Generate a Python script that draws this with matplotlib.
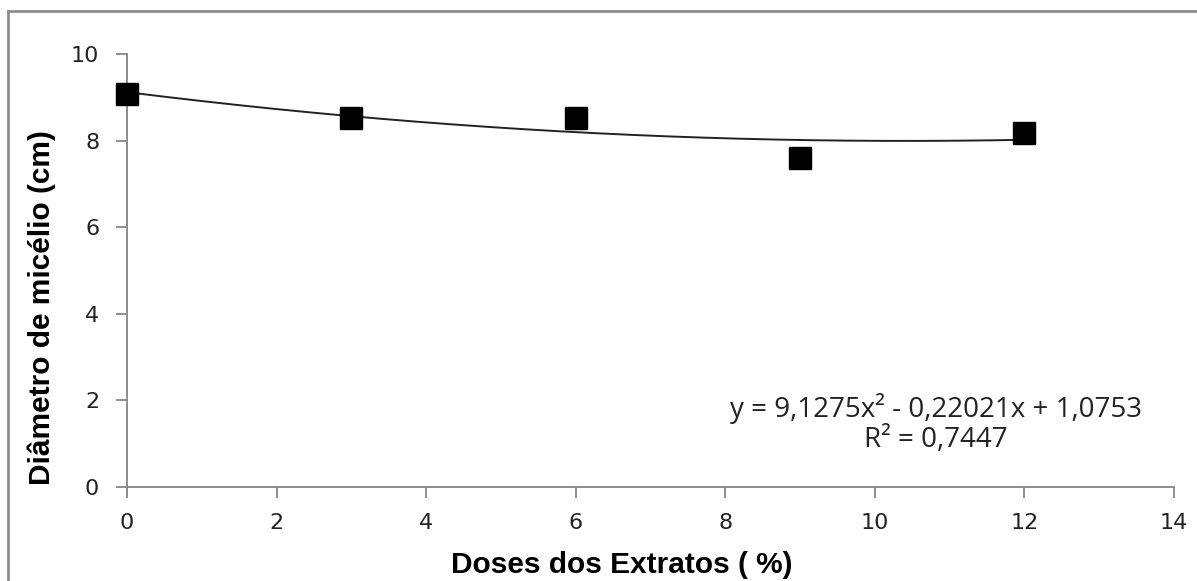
import numpy as np
import matplotlib
matplotlib.use('Agg')
import matplotlib.pyplot as plt
from matplotlib.lines import Line2D

# data
doses = [0, 3, 6, 9, 12]
diametro = [9.08, 8.53, 8.53, 7.60, 8.17]
eq_text = 'y = 9,1275x² - 0,22021x + 1,0753'
r2_text = 'R² = 0,7447'
x_ticks = [0, 2, 4, 6, 8, 10, 12, 14]
y_ticks = [0, 2, 4, 6, 8, 10]

fig = plt.figure(figsize=(11.97, 5.81), dpi=100)
W, H = 1197, 581
ax = fig.add_axes([127 / W, 1 - 487 / H, (1174 - 127) / W, (487 - 54) / H])

# polynomial trend line (2nd order), like Excel
coef = np.polyfit(doses, diametro, 2)
xs = np.linspace(0, 12, 200)
ax.plot(xs, np.polyval(coef, xs), color='#222222', lw=1.4, zorder=2)

ax.plot(doses, diametro, 's', color='black', ms=16, zorder=3, clip_on=False)

ax.set_xlim(0, 14)
ax.set_ylim(0, 10)
ax.set_xticks(x_ticks)
ax.set_yticks(y_ticks)
gray = '#868686'
for s in ['top', 'right']:
    ax.spines[s].set_visible(False)
for s in ['left', 'bottom']:
    ax.spines[s].set_color(gray)
    ax.spines[s].set_linewidth(1.3)
ax.tick_params(axis='both', colors=gray, length=8, width=1.3, labelcolor='#222222', labelsize=16)
ax.tick_params(axis='y', pad=12)
ax.tick_params(axis='x', pad=11)
for lab in ax.get_xticklabels() + ax.get_yticklabels():
    lab.set_family('DejaVu Sans')

fig.text(936 / W, 1 - 408 / H, eq_text, ha='center', va='center', fontsize=20, family='Open Sans', color='#222222')
fig.text(936 / W, 1 - 440 / H, r2_text, ha='center', va='center', fontsize=20, family='Open Sans', color='#222222')

fig.text(622 / W, 1 - 565 / H, 'Doses dos Extratos ( %)', ha='center', va='center',
         fontsize=21.5, fontweight='bold', family='Liberation Sans')
fig.text(42 / W, 1 - 308 / H, 'Diâmetro de micélio (cm)', ha='center', va='center', rotation=90,
         fontsize=21.5, fontweight='bold', family='Liberation Sans')

# outer frame of the chart area (only top and left visible)
fig.add_artist(Line2D([8 / W, 1], [1 - 11 / H, 1 - 11 / H], transform=fig.transFigure, color='#8c8c8c', lw=2))
fig.add_artist(Line2D([8 / W, 8 / W], [0, 1 - 11 / H], transform=fig.transFigure, color='#8c8c8c', lw=2))
# page number cut off at top right
fig.text(1190 / W, 1 - 4 / H, '2', ha='center', va='bottom', fontsize=20)

fig.savefig('out.png', dpi=100)
